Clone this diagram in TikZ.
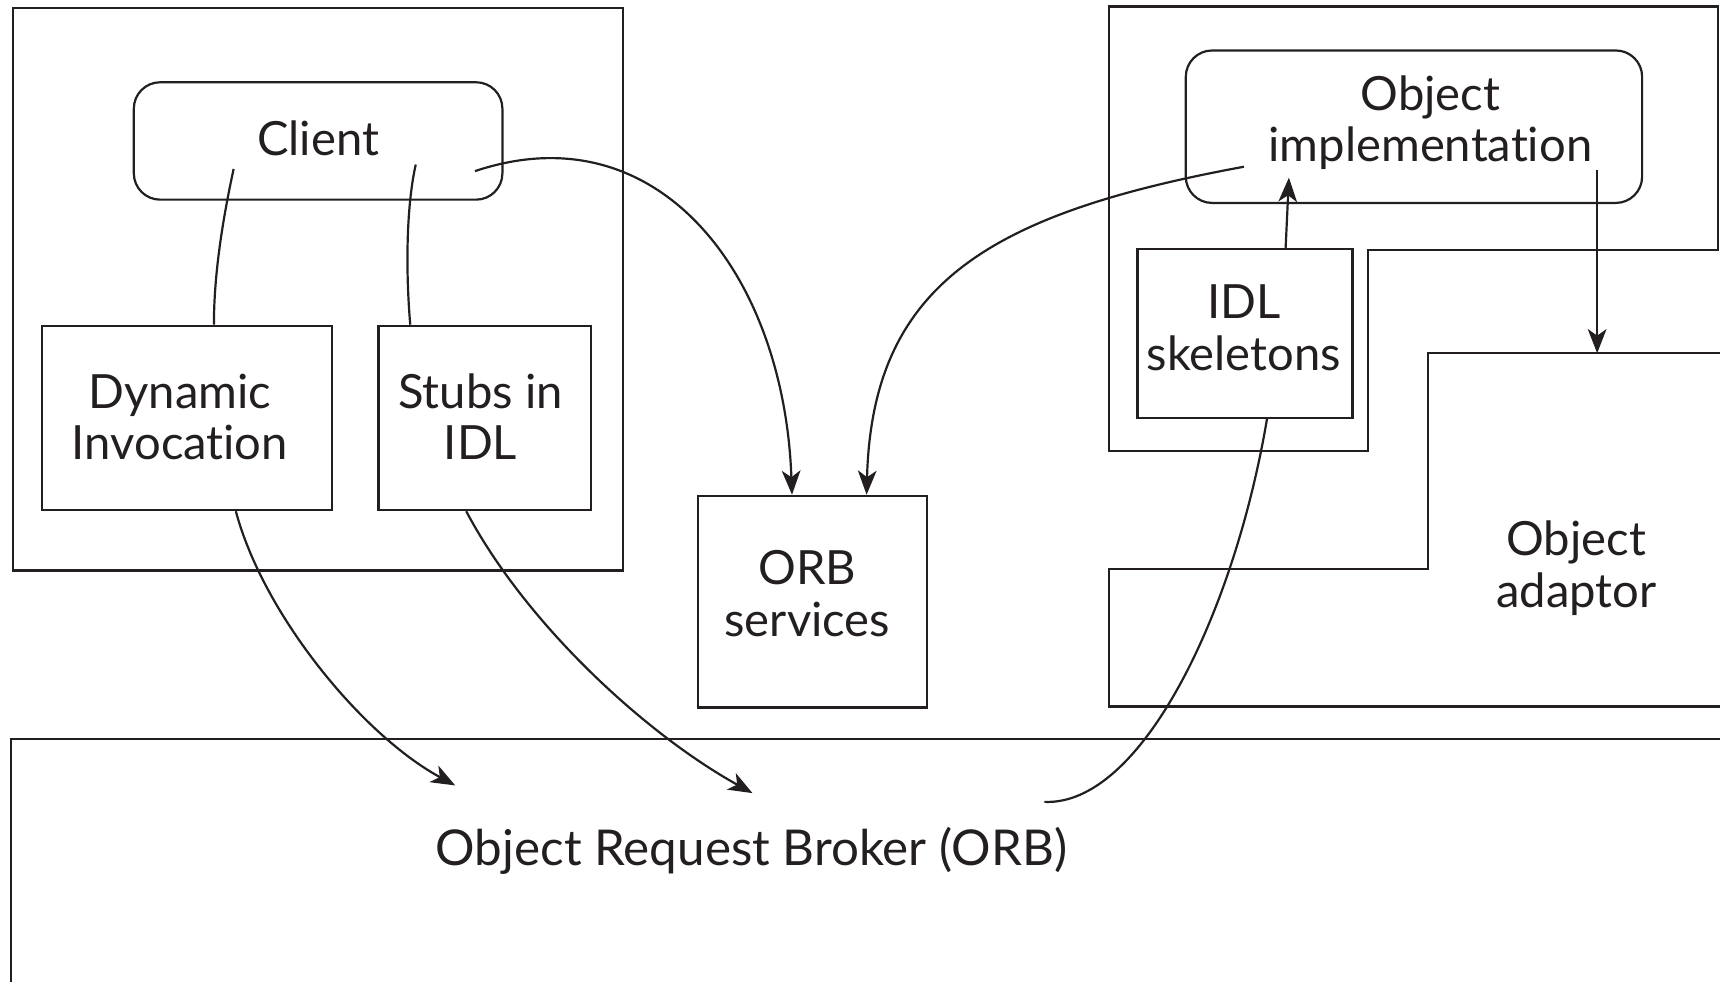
\documentclass[tikz,border=0pt]{standalone}
\usepackage{fontspec}
\setmainfont[Ligatures=NoCommon]{Lato}
\usetikzlibrary{arrows.meta,calc}
\definecolor{ink}{HTML}{231F20}

\begin{document}
\begin{tikzpicture}[x=0.5pt,y=-0.5pt,
  box/.style={draw=ink, line width=1pt, inner sep=0pt, anchor=north west},
  rbox/.style={box, rounded corners=12pt},
  lbl/.style={text=ink, align=center, font=\fontsize{21.5}{23.5}\selectfont, inner sep=0pt},
  wire/.style={draw=ink, line width=1pt},
  arr/.style={wire, -{Stealth[length=11pt,width=8.5pt,inset=3pt]}},
]
\useasboundingbox (0,0) rectangle (1568,895);
\clip (0,0) rectangle (1568,895);

% client side
\node[box, minimum width=278pt, minimum height=256.5pt] (clientside) at (11,6) {};
\node[rbox, minimum width=168pt, minimum height=53.5pt] (client) at (121,74) {};
\node[lbl] (clienttext) at (290,126) {Client};
\node[box, minimum width=132.5pt, minimum height=84pt] (dyn) at (37,296) {};
\node[lbl] (dyntext) at (164,380) {Dynamic\\Invocation};
\node[box, minimum width=97pt, minimum height=84pt] (stubs) at (344,296) {};
\node[lbl] (stubstext) at (438,380) {Stubs in\\IDL};

% ORB services
\node[box, minimum width=104.5pt, minimum height=96.5pt] (orbsvc) at (635,451) {};
\node[lbl] (orbsvctext) at (736,541) {ORB\\services};

% server side
\draw[ink, line width=1pt] (1011,6) -- (1566,6) -- (1566,228) -- (1247,228)
  -- (1247,411) -- (1011,411) -- cycle;
\node[rbox, minimum width=208pt, minimum height=69.5pt] (objimpl) at (1080,45) {};
\node[lbl] (objimpltext) at (1304,112) {Object\\implementation};
\node[box, minimum width=98pt, minimum height=77pt] (skel) at (1036,226) {};
\node[lbl] (skeltext) at (1134,299) {IDL\\skeletons};

% object adaptor
\draw[ink, line width=1pt] (1580,322) -- (1302,322) -- (1302,519) -- (1011,519)
  -- (1011,644) -- (1580,644);
\node[lbl] (adaptor) at (1437,518) {Object\\adaptor};
\coordinate (adtop) at (1456,322);

% ORB
\node[box, minimum width=800pt, minimum height=200pt] (orb) at (9,673) {};
\node[lbl, font=\fontsize{22.5}{24}\selectfont] (orbtext) at (685,776) {Object Request Broker (ORB)};

% connector ends
\coordinate (cA) at (213,154);
\coordinate (cB) at (379,150);
\coordinate (cC) at (433,156);
\coordinate (oA) at (1134,152);
\coordinate (oB) at (1175,162);
\coordinate (oC) at (1456,155);
\coordinate (orbA) at (415,716);
\coordinate (orbB) at (686,723);
\coordinate (orbC) at (952,731);

% connectors
\draw[wire] (cA) .. controls (203,200) and (195,250) .. ($(dyn.north west)+(158,0)$);
\draw[wire] (cB) .. controls (370,190) and (370,250) .. ($(stubs.north west)+(30,0)$);
\draw[arr] (cC) .. controls (600,100) and (715,250) .. ($(orbsvc.north west)+(87,0)$);
\draw[arr] (oA) .. controls (900,195) and (795,260) .. ($(orbsvc.north west)+(155,0)$);
\draw[arr] ($(skel.north west)+(136,0)$) -- (oB);
\draw[arr] (oC) -- (adtop);
\draw[arr] ($(dyn.south west)+(178,0)$) .. controls (240,560) and (330,670) .. (orbA);
\draw[arr] ($(stubs.south west)+(81,0)$) .. controls (480,570) and (590,670) .. (orbB);
\draw[wire] ($(skel.south west)+(119,0)$) .. controls (1125,560) and (1040,735) .. (orbC);
\end{tikzpicture}
\end{document}
